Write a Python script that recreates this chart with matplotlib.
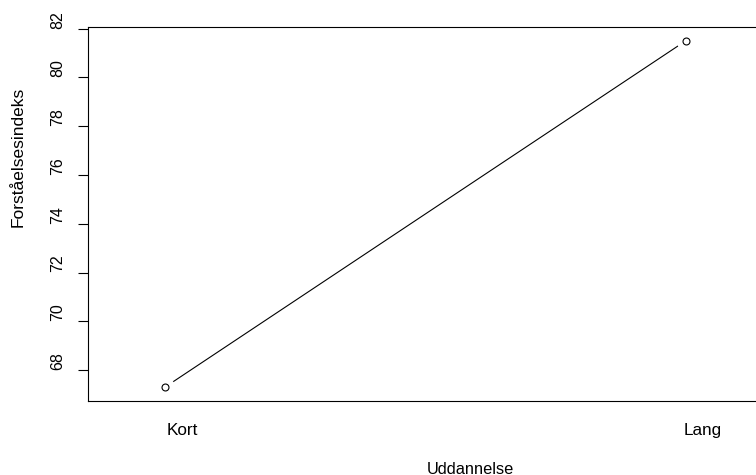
import matplotlib
matplotlib.use("Agg")
import matplotlib.pyplot as plt
from matplotlib.transforms import ScaledTranslation

# data (R interaction-style plot)
categories = ["Kort", "Lang"]
values = [67.3, 81.5]
y_ticks = [68, 70, 72, 74, 76, 78, 80, 82]

plt.rcParams['font.family'] = ['Liberation Sans', 'DejaVu Sans']

W, H = 756, 475
fig = plt.figure(figsize=(W / 100, H / 100), dpi=100)
# plot region; right edge runs past the picture like in the reference
ax = fig.add_axes([88 / W, 74 / H, (771 - 88) / W, (401 - 27) / H])

xs = [i + 1 for i in range(len(categories))]

# type="b": line with gaps around the points
ax.plot(xs, values, color='black', lw=0.8, zorder=2)
ax.plot(xs, values, ls='none', marker='o', ms=14, mfc='white', mec='none', zorder=3)
ax.plot(xs, values, ls='none', marker='o', ms=5, mfc='white', mec='black', mew=0.8, zorder=4)

ax.set_xlim(0.852, 2.164)
ax.set_ylim(66.73, 82.07)

ax.set_yticks(y_ticks)
ax.set_yticklabels([str(t) for t in y_ticks], rotation=90, va='center', fontsize=11.5)
ax.tick_params(axis='y', direction='out', length=7.5, width=0.8, pad=9)
# labels sit a little above their ticks in the reference
up = ScaledTranslation(0, 9 / 100, fig.dpi_scale_trans)
for lbl in ax.get_yticklabels():
    lbl.set_transform(lbl.get_transform() + up)

shift = 0.033
ax.set_xticks([x + shift for x in xs])
ax.set_xticklabels(categories, fontsize=12.3)
ax.tick_params(axis='x', length=0, pad=16)

ax.spines['right'].set_visible(False)
for s in ['left', 'top', 'bottom']:
    ax.spines[s].set_linewidth(0.8)

fig.text(470 / W, 1 - 469 / H, "Uddannelse", ha='center', va='center', fontsize=11.8)
fig.text(18 / W, 1 - 157 / H, "Forståelsesindeks", ha='center', va='center',
         rotation=90, fontsize=12.5)

fig.savefig("out.png", dpi=100)
